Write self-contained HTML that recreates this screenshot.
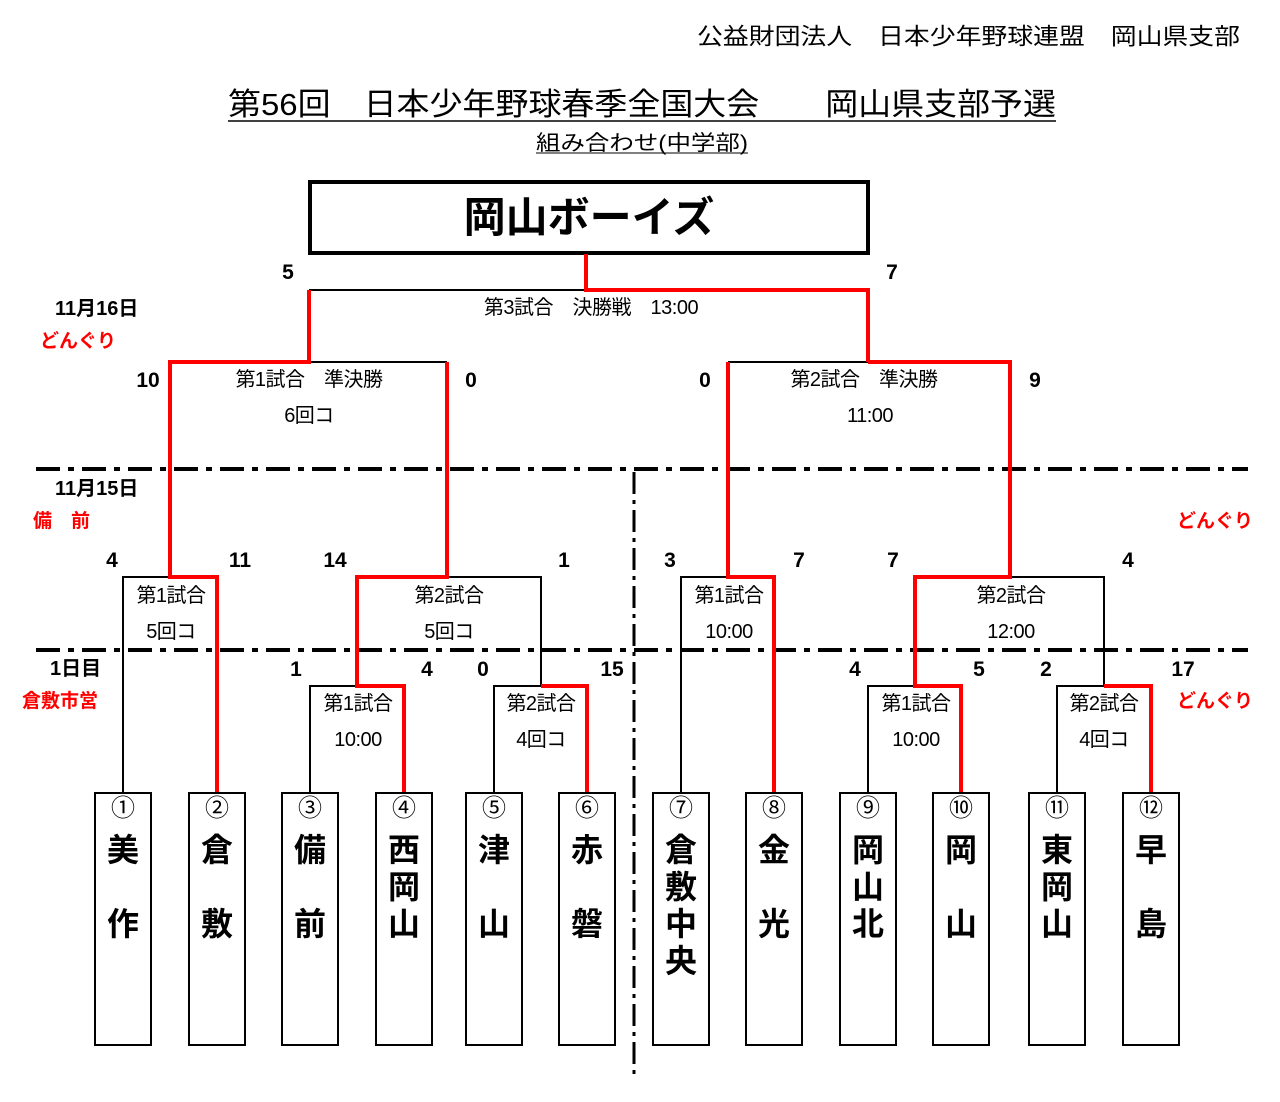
<!DOCTYPE html>
<html><head><meta charset="utf-8"><style>
html,body{margin:0;padding:0;background:#fff}
svg{display:block}
text{font-family:"Liberation Sans","Noto Sans CJK JP",sans-serif}
</style></head><body>
<svg width="1280" height="1102" viewBox="0 0 1280 1102" xmlns="http://www.w3.org/2000/svg">
<g fill="#000">
<text x="697" y="44" font-size="23" textLength="543" lengthAdjust="spacingAndGlyphs">公益財団法人　日本少年野球連盟　岡山県支部</text>
<text x="228" y="115" font-size="31" textLength="828" lengthAdjust="spacingAndGlyphs">第56回　日本少年野球春季全国大会　　岡山県支部予選</text>
<text x="536" y="150" font-size="21" textLength="212" lengthAdjust="spacingAndGlyphs">組み合わせ(中学部)</text>
</g>
<line x1="228" y1="121" x2="1056" y2="121" stroke="#000" stroke-width="1.5"/>
<line x1="536" y1="153" x2="748" y2="153" stroke="#000" stroke-width="1"/>
<rect x="310" y="182" width="558" height="71" fill="none" stroke="#000" stroke-width="4"/>
<text x="589" y="232" font-size="42" font-weight="bold" text-anchor="middle">岡山ボーイズ</text>

<g stroke="#000" stroke-width="4" stroke-dasharray="24,8,6,8">
<line x1="36" y1="469" x2="1248" y2="469"/>
<line x1="36" y1="650" x2="1248" y2="650"/>
</g>
<line x1="634" y1="472" x2="634" y2="1076" stroke="#000" stroke-width="3" stroke-dasharray="22,6,4,6"/>

<g stroke="#000" stroke-width="2" fill="none">
<polyline points="310,793 310,686 357,686"/>
<polyline points="494,793 494,686 541,686"/>
<polyline points="868,793 868,686 915,686"/>
<polyline points="1057,793 1057,686 1104,686"/>
<polyline points="123,793 123,577 170,577"/>
<polyline points="447,577 541,577 541,686"/>
<polyline points="681,793 681,577 728,577"/>
<polyline points="1010,577 1104,577 1104,686"/>
<polyline points="309,362 447,362"/>
<polyline points="728,362 868,362"/>
<polyline points="309,290 586,290"/>
</g>
<g stroke="#f00" stroke-width="4" fill="none">
<polyline points="404,793 404,686 357,686 357,577 447,577 447,362"/>
<polyline points="587,793 587,686 541,686"/>
<polyline points="961,793 961,686 915,686 915,577 1010,577 1010,362 868,362"/>
<polyline points="1151,793 1151,686 1104,686"/>
<polyline points="217,793 217,577 170,577 170,362 309,362 309,290"/>
<polyline points="774,793 774,577 728,577 728,362"/>
<polyline points="868,362 868,290 586,290 586,254"/>
</g>

<g font-size="21" font-weight="bold" text-anchor="middle">
<text x="288" y="279">5</text><text x="892" y="279">7</text>
<text x="148" y="387">10</text><text x="471" y="387">0</text>
<text x="705" y="387">0</text><text x="1035" y="387">9</text>
<text x="112" y="567">4</text><text x="240" y="567">11</text>
<text x="335" y="567">14</text><text x="564" y="567">1</text>
<text x="670" y="567">3</text><text x="799" y="567">7</text>
<text x="893" y="567">7</text><text x="1128" y="567">4</text>
<text x="296" y="676">1</text><text x="427" y="676">4</text>
<text x="483" y="676">0</text><text x="612" y="676">15</text>
<text x="855" y="676">4</text><text x="979" y="676">5</text>
<text x="1046" y="676">2</text><text x="1183" y="676">17</text>
</g>

<g font-size="20" text-anchor="middle" style="letter-spacing:-0.5px">
<text x="591" y="314">第3試合　決勝戦　13:00</text>
<text x="309" y="386">第1試合　準決勝</text>
<text x="309" y="422">6回コ</text>
<text x="864" y="386">第2試合　準決勝</text>
<text x="870" y="422">11:00</text>
<text x="171" y="602">第1試合</text><text x="171" y="638">5回コ</text>
<text x="449" y="602">第2試合</text><text x="449" y="638">5回コ</text>
<text x="729" y="602">第1試合</text><text x="729" y="638">10:00</text>
<text x="1011" y="602">第2試合</text><text x="1011" y="638">12:00</text>
<text x="358" y="710">第1試合</text><text x="358" y="746">10:00</text>
<text x="541" y="710">第2試合</text><text x="541" y="746">4回コ</text>
<text x="916" y="710">第1試合</text><text x="916" y="746">10:00</text>
<text x="1104" y="710">第2試合</text><text x="1104" y="746">4回コ</text>
</g>

<g font-size="20" font-weight="bold">
<text x="55" y="315">11月16日</text>
<text x="55" y="495">11月15日</text>
<text x="50" y="675">1日目</text>
</g>
<g font-size="19" font-weight="bold" fill="#f00">
<text x="40" y="347">どんぐり</text>
<text x="33" y="527">備　前</text>
<text x="22" y="707">倉敷市営</text>
<text x="1177" y="527">どんぐり</text>
<text x="1177" y="707">どんぐり</text>
</g>

<g fill="#fff" stroke="#000" stroke-width="2">
<rect x="95" y="793" width="56" height="252"/><rect x="189" y="793" width="56" height="252"/>
<rect x="282" y="793" width="56" height="252"/><rect x="376" y="793" width="56" height="252"/>
<rect x="466" y="793" width="56" height="252"/><rect x="559" y="793" width="56" height="252"/>
<rect x="653" y="793" width="56" height="252"/><rect x="746" y="793" width="56" height="252"/>
<rect x="840" y="793" width="56" height="252"/><rect x="933" y="793" width="56" height="252"/>
<rect x="1029" y="793" width="56" height="252"/><rect x="1123" y="793" width="56" height="252"/>
</g>
<g font-size="24" text-anchor="middle">
<text x="123" y="816">①</text><text x="217" y="816">②</text><text x="310" y="816">③</text>
<text x="404" y="816">④</text><text x="494" y="816">⑤</text><text x="587" y="816">⑥</text>
<text x="681" y="816">⑦</text><text x="774" y="816">⑧</text><text x="868" y="816">⑨</text>
<text x="961" y="816">⑩</text><text x="1057" y="816">⑪</text><text x="1151" y="816">⑫</text>
</g>
<g font-size="32" font-weight="bold" text-anchor="middle">
<text x="123" y="861">美</text><text x="123" y="935">作</text>
<text x="217" y="861">倉</text><text x="217" y="935">敷</text>
<text x="310" y="861">備</text><text x="310" y="935">前</text>
<text x="404" y="861">西</text><text x="404" y="898">岡</text><text x="404" y="935">山</text>
<text x="494" y="861">津</text><text x="494" y="935">山</text>
<text x="587" y="861">赤</text><text x="587" y="935">磐</text>
<text x="681" y="861">倉</text><text x="681" y="898">敷</text><text x="681" y="935">中</text><text x="681" y="972">央</text>
<text x="774" y="861">金</text><text x="774" y="935">光</text>
<text x="868" y="861">岡</text><text x="868" y="898">山</text><text x="868" y="935">北</text>
<text x="961" y="861">岡</text><text x="961" y="935">山</text>
<text x="1057" y="861">東</text><text x="1057" y="898">岡</text><text x="1057" y="935">山</text>
<text x="1151" y="861">早</text><text x="1151" y="935">島</text>
</g>
</svg>
</body></html>
